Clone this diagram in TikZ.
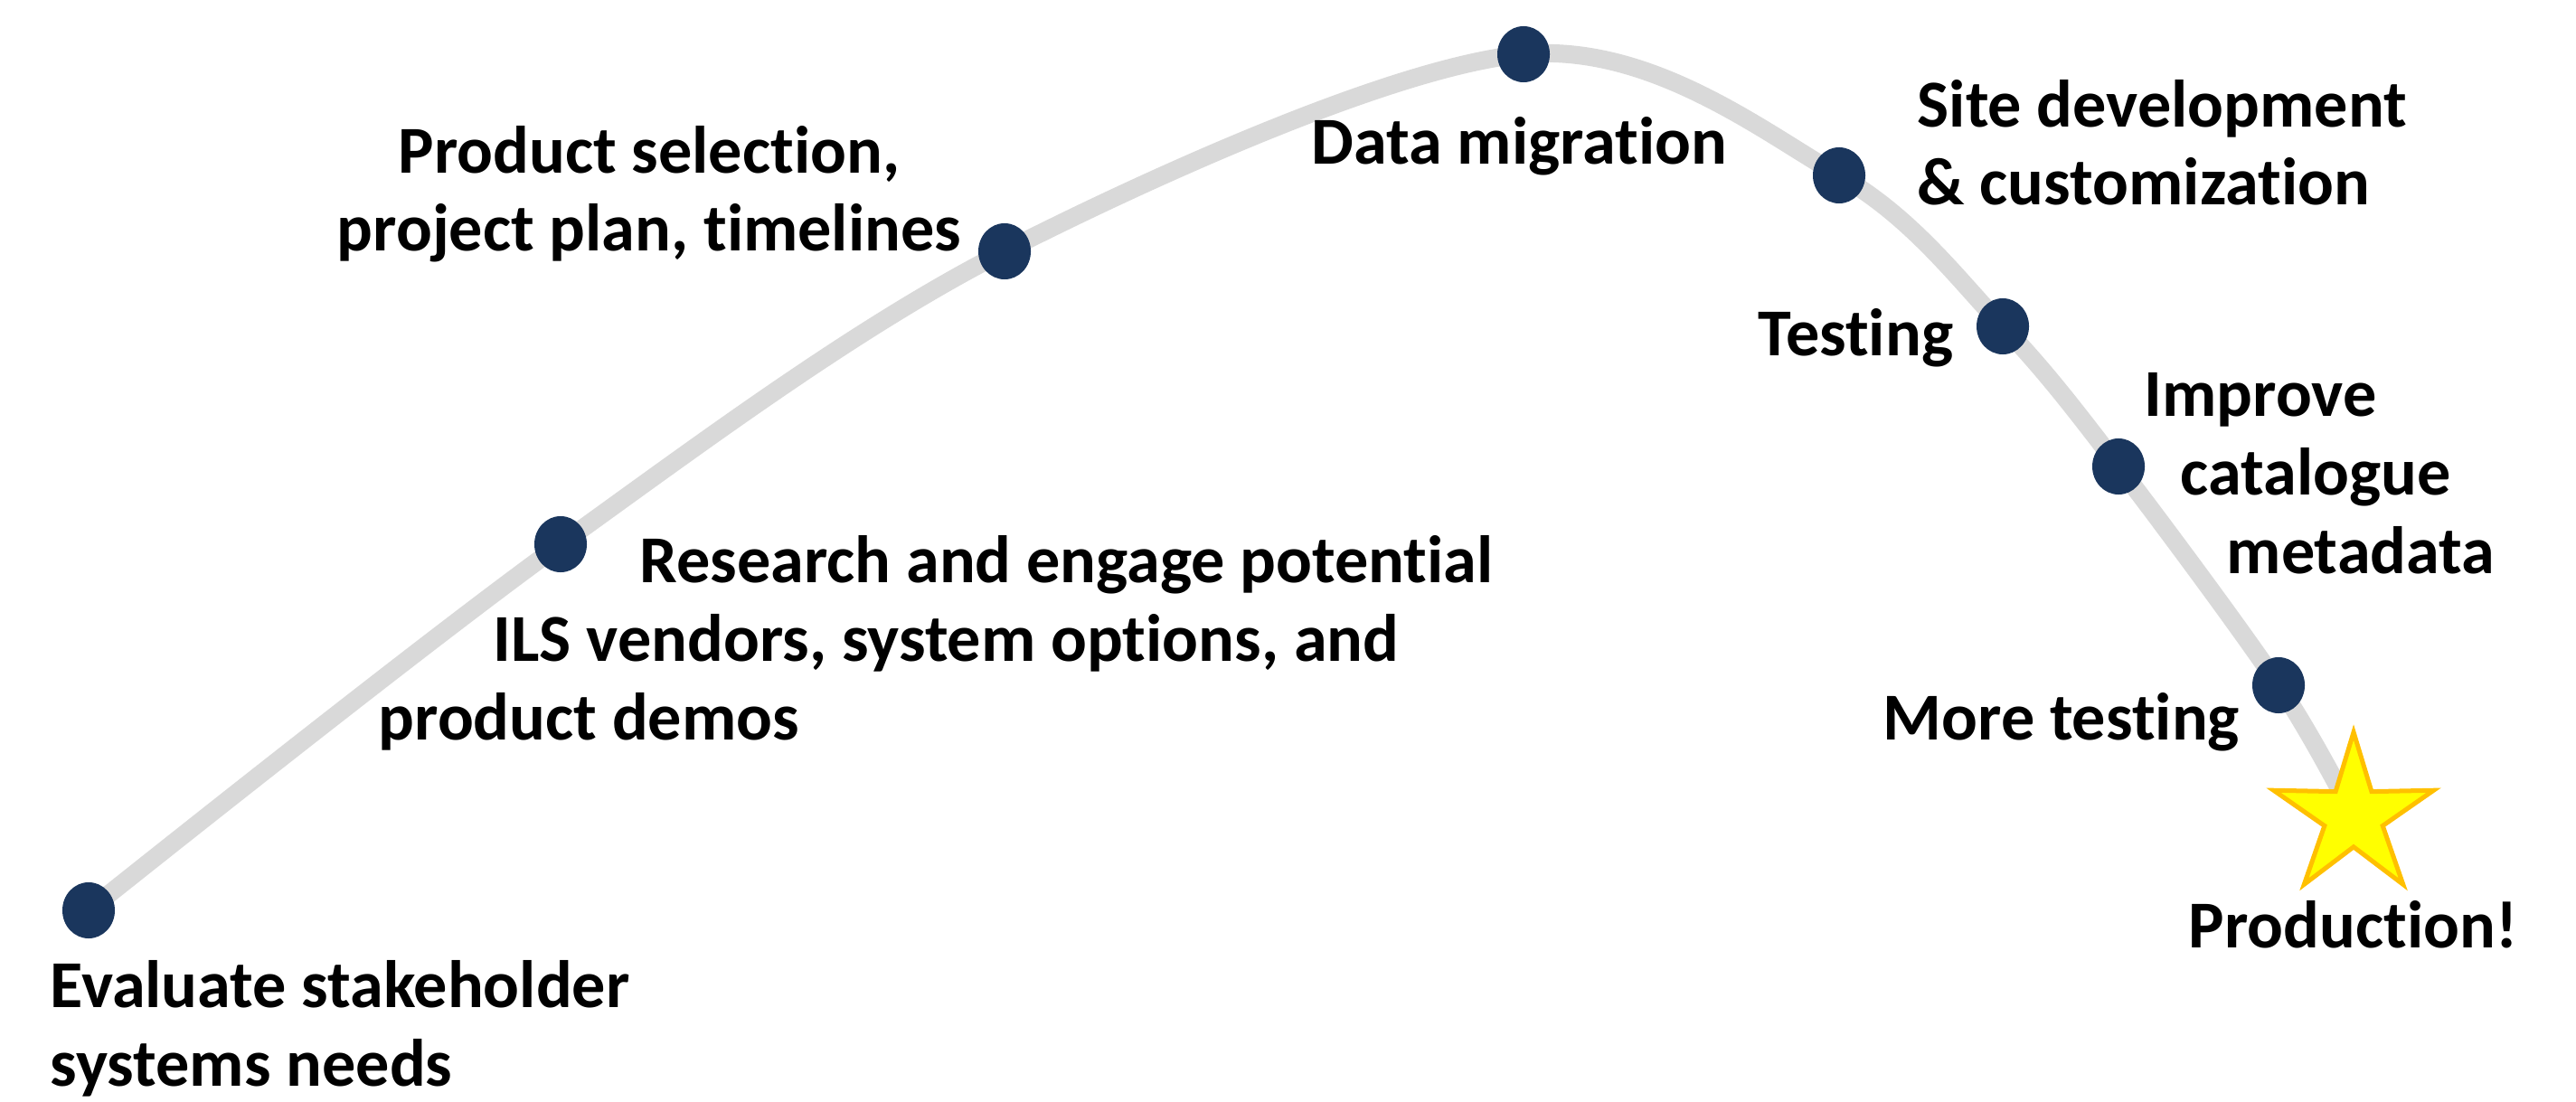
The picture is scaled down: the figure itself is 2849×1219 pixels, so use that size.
\documentclass[tikz,border=0pt]{standalone}
\usepackage{fontspec}
\setmainfont{Carlito}[Ligatures=NoCommon]
\usetikzlibrary{shapes.geometric,backgrounds}
\definecolor{trackgray}{HTML}{D9D9D9}
\definecolor{dotblue}{HTML}{1A365D}
\definecolor{stargold}{HTML}{FFC000}
\definecolor{staryellow}{HTML}{FFFF00}

\begin{document}
\begin{tikzpicture}[x=0.01cm, y=-0.01cm,
    milestone/.style={ellipse, fill=dotblue, inner sep=0pt, minimum width=0.58cm, minimum height=0.62cm},
    goal/.style={star, star points=5, star point ratio=2.75, fill=staryellow, draw=stargold, line width=0.05cm, inner sep=0pt, minimum size=1.86cm},
    steptext/.style={inner sep=0pt, font=\fontsize{21.1}{24.7}\selectfont\bfseries, align=left},
    track/.style={draw=trackgray, line width=0.2cm}]
  \useasboundingbox (0,0) rectangle (2849,1219);

  % milestones along the curve
  \node[milestone] (eval) at (98,1007) {};
  \node[milestone] (research) at (620,602) {};
  \node[milestone] (select) at (1111,278) {};
  \node[milestone] (migrate) at (1685,60) {};
  \node[milestone] (site) at (2034,194) {};
  \node[milestone] (test) at (2215,361) {};
  \node[milestone] (improve) at (2343,516) {};
  \node[milestone] (retest) at (2520,758) {};
  \node[goal] (prod) at (2603,903) {};

  % labels (base = last line)
  \node[steptext, anchor=base west] (evaltext) at (55,1201) {Evaluate stakeholder\\systems needs};
  \node[steptext, anchor=base west] (researchtext) at (418,818) {\hspace*{2.89cm}Research and engage potential\\\hspace*{1.27cm}ILS vendors, system options, and\\product demos};
  \node[steptext, align=center, anchor=base] (selecttext) at (718,278) {Product selection,\\project plan, timelines};
  \node[steptext, anchor=base west] (migratetext) at (1450,182) {Data migration};
  \node[steptext, anchor=base west] (sitetext) at (2120,227) {Site development\\\& customization};
  \node[steptext, anchor=base west] (testtext) at (1944,394) {Testing};
  \node[steptext, anchor=base west] (improvetext) at (2371,634) {Improve\\\hspace*{0.40cm}catalogue\\\hspace*{0.91cm}metadata};
  \node[steptext, anchor=base west] (retesttext) at (2082,818) {More testing};
  \node[steptext, anchor=base west] (prodtext) at (2420,1048) {Production!};

  \begin{scope}[on background layer]
    \draw[track] plot[smooth, tension=0.55] coordinates {(eval) (research) (select) (migrate) (site) (test) (improve) (retest) (prod)};
  \end{scope}
\end{tikzpicture}
\end{document}
